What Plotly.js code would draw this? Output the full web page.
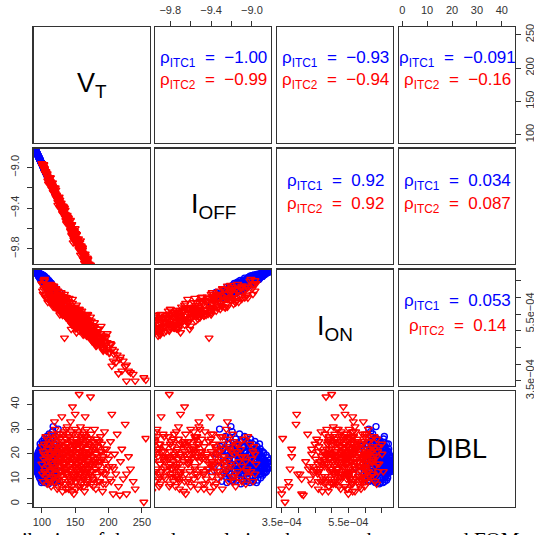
<!DOCTYPE html>
<html><head><meta charset="utf-8">
<script src="https://cdn.plot.ly/plotly-3.0.1.min.js"></script>
<style>html,body{margin:0;padding:0;background:#fff;overflow:hidden}</style>
</head><body><div id="chart" style="width:534px;height:535px"></div>
<script>
// ---------- DATA ----------
const varNames = ['V<sub>T</sub>', 'I<sub>OFF</sub>', 'I<sub>ON</sub>', 'DIBL'];

// ITC1 (blue circles)
const vt_itc1 = [90.5,91,91,91.5,92,92,92.5,93,93,93.5,
 94,94,94.5,95,95,95.5,96,96,96.5,97,
 97,97.5,98,98,98.5,99,99,99.5,100,100,
 97.5,99.5,99,97,95.5,100.5,101,101,101.5,102,
 102,102.5,103,103,103.5,104,104,104.5,105,105,
 105.5,106,106,106.5,107,107,107.5,108,108,108,
 108.5,109,109,109.5,110,110,110.5,111,111,111.5,
 112,112.5,113,113,113.5,114,114.5,115,115.5,116,
 116.5,117,117.5,118,118.5,119,119.5,120,120.5,121,
 117,122,123,124,124.5,125,127,130,
 91.5,92.5,93.5,94.5,95.5,96.5,97.5,98.5,99.5,100.5,
 101.5,102.5,103.5,104.5,105.5,106.5,107.5,108.5,109.5,110.5,
 111.5,112.5,113.5,114.5,115.5,116.5,117.5,118.5,119.5,120.5,
 96,98,100,102,104,106,108,110,112,114,
 116,118,120,122,101,103,105,107,109,111,
 93,94,95,96,97,98,99,100,101,102,
 103,104,105,106,107,108,109,110,111,112,
 113,114,115,116,117,118,119,104,106,100];
const ioff_itc1 = [-8.827,-8.834,-8.830,-8.843,-8.849,-8.845,-8.858,-8.863,-8.860,-8.872,
 -8.878,-8.880,-8.885,-8.895,-8.890,-8.899,-8.906,-8.908,-8.914,-8.921,
 -8.918,-8.928,-8.935,-8.932,-8.942,-8.950,-8.947,-8.957,-8.964,-8.960,
 -8.926,-8.955,-8.952,-8.923,-8.897,-8.971,-8.978,-8.975,-8.986,-8.993,
 -8.990,-9.000,-9.007,-9.004,-9.014,-9.022,-9.019,-9.029,-9.036,-9.033,
 -9.043,-9.050,-9.047,-9.058,-9.065,-9.062,-9.072,-9.079,-9.076,-9.081,
 -9.086,-9.094,-9.091,-9.101,-9.108,-9.105,-9.115,-9.122,-9.119,-9.130,
 -9.137,-9.144,-9.151,-9.148,-9.158,-9.166,-9.173,-9.180,-9.187,-9.194,
 -9.202,-9.209,-9.216,-9.223,-9.230,-9.238,-9.245,-9.252,-9.259,-9.266,
 -9.206,-9.281,-9.295,-9.310,-9.317,-9.324,-9.353,-9.396,
 -8.842,-8.856,-8.875,-8.885,-8.899,-8.914,-8.923,-8.942,-8.957,-8.971,
 -8.986,-9.006,-9.014,-9.029,-9.043,-9.058,-9.072,-9.080,-9.101,-9.115,
 -9.130,-9.144,-9.158,-9.167,-9.187,-9.202,-9.216,-9.230,-9.251,-9.259,
 -8.906,-8.935,-8.964,-8.993,-9.027,-9.050,-9.079,-9.108,-9.137,-9.166,
 -9.189,-9.223,-9.252,-9.281,-8.978,-9.007,-9.041,-9.065,-9.094,-9.122,
 -8.863,-8.878,-8.892,-8.906,-8.921,-8.935,-8.950,-8.964,-8.978,-8.993,
 -9.007,-9.022,-9.036,-9.050,-9.065,-9.079,-9.094,-9.108,-9.122,-9.137,
 -9.151,-9.166,-9.180,-9.194,-9.209,-9.223,-9.238,-9.020,-9.053,-8.961];
// I_ON in units of 1e-4 A
const ion_itc1_e4 = [6.79,6.77,6.78,6.75,6.77,6.76,6.78,6.71,6.74,6.71,
 6.74,6.69,6.71,6.64,6.71,6.67,6.73,6.63,6.68,6.62,
 6.71,6.60,6.63,6.54,6.65,6.58,6.70,6.52,6.61,6.54,
 6.70,6.54,6.61,6.58,6.71,6.55,6.68,6.48,6.59,6.49,
 6.64,6.46,6.53,6.38,6.56,6.46,6.64,6.37,6.52,6.41,
 6.58,6.37,6.47,6.29,6.50,6.40,6.58,6.29,6.45,6.34,
 6.51,6.30,6.40,6.22,6.43,6.33,6.51,6.23,6.39,6.27,
 6.44,6.23,6.31,6.14,6.35,6.24,6.42,6.14,6.29,6.17,
 6.34,6.13,6.22,6.03,6.24,6.13,6.31,6.03,6.18,6.06,
 6.33,6.02,6.09,5.90,6.11,6.00,6.15,5.81,
 6.76,6.77,6.71,6.73,6.63,6.67,6.70,6.57,6.60,6.46,
 6.47,6.65,6.46,6.57,6.33,6.47,6.53,6.32,6.38,6.19,
 6.23,6.45,6.24,6.35,6.11,6.25,6.31,6.10,6.16,5.97,
 6.63,6.69,6.55,6.61,6.37,6.48,6.51,6.29,6.33,6.11,
 6.13,6.32,6.10,6.19,6.47,6.54,6.58,6.36,6.39,6.18,
 6.74,6.68,6.73,6.65,6.69,6.55,6.61,6.65,6.51,6.66,
 6.56,6.39,6.60,6.41,6.51,6.26,6.40,6.46,6.27,6.47,
 6.34,6.17,6.38,6.19,6.29,6.04,6.18,6.59,6.38,6.68];
const dibl_itc1 = [16,15,17.5,14,16.5,18.5,13,15.5,19.5,12.5,
 17,14,20.5,11.5,16,21,13,18,10.5,15,
 22,12,19,16.5,9.5,23,14,20,11,17,
 24,8.5,21.5,17.5,14.5,22,13.5,19,9,16,
 24,11.5,20.5,14.5,26,8.5,17.5,22.5,12.5,19.5,
 15,25,10,21,13,17,27,9,23,15.5,
 19,12,25.5,16.5,8,21.5,14,28,18,10.5,
 23,15,20,9.5,26,13,17.5,22,11,29,
 15.5,19.5,10,24,14,21,8.5,17,27,12,
 31,19,9,23,30,15,20,13,
 16.5,14.5,17.5,13,19,15,21,12.5,17,25,
 20,13,16.5,24.5,9,18,13.5,22.5,10,25,
 16,12.5,23.5,15.5,20,9.5,26.5,18,13,21.5,
 15,21,14,10.5,20,16,18,12,19,23.5,
 9,17.5,11,22,18,23,16.5,21,14.5,19.5,
 17,15.5,18.5,12,20,14,18,15,21,12.5,
 18,15,23,14,19,11,17,20,13,16,
 24,18,14,20,16,12,24,20.5,17.5,13];

// ITC2 (red triangles)
const vt_itc2 = [100,101,102,102,103,104,105,106,107,108,108,109,110,104,101,
 111,112,112,113,114,114,115,116,116,117,118,118,119,120,120,121,122,122,123,123,124,124,125,125,119,
 126,126,127,127,128,128,129,129,130,130,131,131,132,132,133,133,134,134,135,135,136,136,137,137,138,138,139,139,140,140,
 141,141,142,142,143,143,144,144,145,145,146,146,147,147,148,148,149,149,150,150,151,151,152,152,153,153,154,154,155,155,156,150,
 156,157,157,158,158,159,159,160,160,161,161,162,162,163,163,164,164,165,165,166,166,167,167,168,168,169,169,170,
 171,172,172,173,173,174,174,175,176,176,177,178,178,179,180,181,181,182,183,183,184,185,
 186,187,188,188,189,190,191,192,193,194,195,196,197,198,200,
 202,203,205,206,207,209,211,213,215,217,218,220,
 222,225,227,227,230,233,237,240,253,256,
 112,114,115,117,118,120,121,122,124,126,127,128,130,131,132,133,135,136,137,138,
 139,141,142,143,144,145,146,147,148,149,150,151,152,153,154,155,156,157,158,159,
 160,161,162,163,164,165,166,167,168,169,171,172,173,175,176,177,179,180,182,184,
 186,188,190,192,194,196,198,201,204,208,
 129,134,140,144,148,152,156,160,164,168,131,137,143,149,155,161,167,139,145,151,
 103,105,107,109,111,113,115,106,110,116,
 118,121,123,125,127,129,131,133,134,136,138,140,141,143,145,146,148,150,152,153,
 155,157,158,160,162,163,165,166,168,170,172,174,176,178,181,183,185,187,189,191,
 124,132,142,147,151,154,159,164,169,175,128,135,139,144,149,157,161,167,173,180];
const ioff_itc2 = [-8.96,-8.97,-8.99,-8.99,-9.00,-9.02,-9.05,-9.04,-9.07,-9.08,-9.06,-9.10,-9.11,-9.01,-8.98,
 -9.12,-9.13,-9.15,-9.14,-9.17,-9.16,-9.19,-9.20,-9.18,-9.22,-9.23,-9.24,-9.23,-9.26,-9.25,-9.27,-9.28,-9.30,-9.30,-9.29,-9.32,-9.31,-9.33,-9.31,-9.24,
 -9.34,-9.35,-9.37,-9.35,-9.38,-9.36,-9.39,-9.40,-9.41,-9.39,-9.42,-9.41,-9.43,-9.44,-9.45,-9.46,-9.42,-9.47,-9.47,-9.46,-9.49,-9.48,-9.51,-9.50,-9.52,-9.51,-9.53,-9.54,-9.55,-9.53,
 -9.56,-9.55,-9.58,-9.57,-9.59,-9.52,-9.61,-9.62,-9.62,-9.60,-9.66,-9.63,-9.65,-9.74,-9.66,-9.65,-9.67,-9.68,-9.69,-9.60,-9.70,-9.71,-9.72,-9.70,-9.73,-9.74,-9.75,-9.74,-9.76,-9.75,-9.81,-9.70,
 -9.77,-9.79,-9.78,-9.80,-9.72,-9.81,-9.80,-9.83,-9.82,-9.84,-9.85,-9.85,-9.86,-9.87,-9.86,-9.88,-9.98,-9.89,-9.90,-9.91,-9.90,-9.92,-9.93,-9.94,-9.93,-9.95,-9.96,-9.97,
 -9.99,-10.00,-10.01,-10.02,-10.01,-10.03,-10.02,-10.05,-10.06,-10.07,-10.07,-10.09,-10.10,-10.11,-10.12,-10.13,-10.14,-10.15,-10.17,-10.16,-10.19,-10.19,
 -10.21,-10.22,-10.23,-10.24,-10.25,-10.26,-10.28,-10.29,-10.30,-10.31,-10.33,-10.34,-10.36,-10.37,-10.40,
 -10.43,-10.44,-10.47,-10.49,-10.50,-10.53,-10.56,-10.58,-10.61,-10.64,-10.65,-10.68,
 -10.71,-10.76,-10.79,-10.79,-10.83,-10.88,-10.93,-10.98,-11.16,-11.20,
 -9.10,-9.18,-9.18,-9.24,-9.20,-9.20,-9.29,-9.27,-9.37,-9.29,-9.32,-9.38,-9.39,-9.45,-9.40,-9.39,-9.49,-9.47,-9.55,-9.47,
 -9.49,-9.57,-9.56,-9.62,-9.57,-9.56,-9.65,-9.63,-9.71,-9.63,-9.65,-9.71,-9.71,-9.76,-9.72,-9.70,-9.80,-9.77,-9.86,-9.77,
 -9.79,-9.86,-9.85,-9.91,-9.86,-9.85,-9.94,-9.91,-10.00,-9.91,-9.95,-10.02,-10.01,-10.08,-10.03,-10.02,-10.13,-10.10,-10.20,-10.13,
 -10.17,-10.25,-10.26,-10.32,-10.29,-10.29,-10.40,-10.40,-10.52,-10.48,
 -9.35,-9.47,-9.54,-9.63,-9.63,-9.66,-9.80,-9.81,-9.94,-9.90,-9.38,-9.51,-9.58,-9.71,-9.73,-9.79,-9.95,-9.51,-9.67,-9.65,
 -8.97,-9.05,-9.06,-9.13,-9.10,-9.10,-9.21,-9.04,-9.16,-9.15,
 -9.25,-9.22,-9.30,-9.30,-9.40,-9.37,-9.38,-9.46,-9.40,-9.52,-9.54,-9.50,-9.56,-9.56,-9.66,-9.61,-9.62,-9.70,-9.66,-9.76,
 -9.78,-9.74,-9.81,-9.80,-9.90,-9.86,-9.87,-9.93,-9.89,-10.01,-10.03,-9.99,-10.06,-10.06,-10.18,-10.15,-10.15,-10.23,-10.19,-10.31,
 -9.34,-9.38,-9.57,-9.62,-9.74,-9.73,-9.78,-9.90,-9.90,-10.08,-9.39,-9.42,-9.53,-9.57,-9.72,-9.77,-9.81,-9.94,-9.96,-10.15];
const ion_itc2_e4 = [6.42,6.20,6.38,6.10,6.25,6.50,6.05,6.30,6.00,6.20,6.35,5.95,6.28,6.55,6.40,
 6.05,6.22,5.90,6.40,6.10,5.85,6.00,6.30,5.80,6.15,5.95,6.35,6.00,5.70,6.10,6.25,5.92,5.75,6.05,5.88,6.20,5.65,5.98,5.82,5.95,
 6.10,5.72,5.95,5.60,6.05,5.85,6.15,5.55,5.63,5.80,5.98,5.70,5.50,6.02,5.88,5.65,4.79,5.75,5.45,5.92,5.55,5.82,5.40,6.00,5.70,5.58,5.35,5.85,5.62,5.48,
 5.98,5.30,5.55,5.85,5.42,5.65,5.05,5.70,5.50,5.38,5.35,5.95,5.45,5.20,5.68,5.50,5.30,5.58,5.72,5.15,5.45,5.62,5.35,4.95,5.55,5.28,5.48,5.62,5.20,5.40,5.00,5.40,
 5.55,5.18,5.42,5.30,5.05,5.50,5.12,5.35,5.60,5.00,5.25,5.45,4.95,5.38,5.15,5.30,4.90,5.10,5.42,5.05,5.25,4.85,5.20,5.02,5.35,5.10,4.92,5.15,
 4.88,5.20,4.95,4.83,5.10,4.80,5.05,4.70,5.15,4.90,4.75,5.00,4.65,4.85,4.98,4.60,4.88,4.55,4.80,4.95,4.62,4.78,
 4.80,4.60,4.92,4.55,4.78,4.50,4.72,4.85,4.45,4.68,4.58,4.80,4.40,4.65,4.52,
 4.35,4.62,3.95,4.45,4.10,4.40,4.05,4.28,3.72,4.15,4.22,3.80,
 4.10,3.93,3.98,3.50,3.80,3.75,3.70,3.50,3.60,3.53,
 6.35,5.92,6.10,5.72,6.18,5.91,6.27,5.71,5.99,5.74,6.09,5.67,5.84,5.47,5.93,5.69,6.02,5.46,5.77,5.53,
 5.88,5.45,5.63,5.26,5.72,5.48,5.83,5.27,5.57,5.34,5.69,5.27,5.45,5.09,5.55,5.30,5.65,5.10,5.40,5.16,
 5.51,5.10,5.28,4.91,5.37,5.13,5.48,4.92,5.22,4.99,5.32,4.90,5.09,4.70,5.16,4.92,5.25,4.69,4.98,4.72,
 5.06,4.62,4.79,4.40,4.85,4.58,4.92,4.33,4.59,4.30,
 6.06,5.57,5.66,5.24,5.65,5.35,5.65,5.04,5.29,5.00,6.02,5.52,5.61,5.16,5.53,5.20,5.46,5.41,5.63,5.30,
 6.51,6.08,6.24,5.86,6.30,6.04,6.37,5.99,6.24,5.91,
 5.80,6.23,5.83,6.03,5.49,5.87,5.99,5.62,6.10,5.41,5.45,5.89,5.52,5.71,5.18,5.57,5.69,5.32,5.78,5.12,
 5.15,5.60,5.22,5.41,4.88,5.27,5.40,5.04,5.50,4.82,4.85,5.30,4.90,5.10,4.55,4.92,5.05,4.67,5.14,4.45,
 5.69,6.03,5.50,5.64,5.07,5.43,5.50,5.07,5.49,4.73,5.62,5.98,5.55,5.69,5.11,5.38,5.47,5.02,5.42,4.64];
const dibl_itc2 = [16,12,21,9,18,24,14,11,19,26,8,15,22,13,23,
 10,17,24,13,20,7,28,15,11,22,18,26,9,14,30,19,12,24,16,6,21,27,10,17,33,
 13,23,19,8,28,15,11,21,35,17,25,5,14,20,10,29,16,23,12,18,26,8,21,14,31,17,11,24,19,6,
 15,27,22,10,18,33,13,25,20,7,39,16,28,11,21,4,17,24,14,30,19,9,26,13,22,16,11,29,20,7,44,36,
 17,25,12,21,31,15,8,19,27,13,23,10,18,28,14,21,5,35,16,24,11,19,30,14,22,9,26,17,
 24,12,20,43,16,28,8,19,13,25,10,22,17,30,14,6,20,26,11,18,23,15,
 9,21,27,13,17,24,5,19,12,29,16,8,22,14,18,
 10,25,36,15,4,20,12,28,7,3.5,17,22,
 10,32,12,4,19,14,9,6,0.7,26.3,
 19,9,25,14,21,11,27,17,7,22,13,24,9,19,28,15,21,6,26,12,
 18,23,8,16,29,12,20,25,10,18,23,6,16,28,13,20,24,9,17,26,
 11,21,15,7,27,19,13,22,17,10,21,15,26,11,19,7,23,16,20,9,
 25,13,18,8,22,12,20,15,9,14,
 22,13,27,9,18,24,12,19,29,8,16,30,20,24,10,14,25,21,5,12,
 20,13,17,24,9,19,16,27,12,21,
 15,23,11,18,26,13,20,8,16,24,12,19,27,14,9,22,17,12,25,19,
 14,21,7,16,24,11,19,27,13,20,16,23,10,18,14,25,17,9,21,13,
 20,16,21,10,15,18,23,12,16,21,17,14,19,22,11,15,18,20,13,17];

// correlation labels (upper panels): [row, col]
const corrCells = [[0,1],[0,2],[0,3],[1,2],[1,3],[2,3]];
const rho_itc1 = ['\u22121.00','\u22120.93','\u22120.091','0.92','0.034','0.053'];
const rho_itc2 = ['\u22120.99','\u22120.94','\u22120.16','0.92','0.087','0.14'];

// tick labels
const vtTicks = [100,150,200,250];
const vtTickText = ['100','150','200','250'];
const ioffTicks = [-9.8,-9.6,-9.4,-9.2,-9.0];
const ioffTickText = ['\u22129.8','','\u22129.4','','\u22129.0'];
const ionTicks = [3.5e-4,4.0e-4,4.5e-4,5.0e-4,5.5e-4,6.0e-4,6.5e-4];
const ionTickText = ['3.5e\u221204','','','','5.5e\u221204','',''];
const diblTicks = [0,10,20,30,40];
const diblTickText = ['0','10','20','30','40'];
const captionText = 'Distribution of the  and correlations between the extracted FOMs for';

// ---------- BUILD ----------
const ion_itc1 = ion_itc1_e4.map(v => v * 1e-4);
const ion_itc2 = ion_itc2_e4.map(v => v * 1e-4);
const data1 = [vt_itc1, ioff_itc1, ion_itc1, dibl_itc1];
const data2 = [vt_itc2, ioff_itc2, ion_itc2, dibl_itc2];
const ranges = [[87.5,261.5],[-9.95,-8.813],[3.36e-4,6.84e-4],[-1.3,45.3]];
const tickv = [vtTicks, ioffTicks, ionTicks, diblTicks];
const tickt = [vtTickText, ioffTickText, ionTickText, diblTickText];

const W = 534, H = 535;
const colPx = [[33.5,149.5],[155,271],[277,393],[399,515]];
const rowPx = [[27,143],[148.5,264],[269.5,385.5],[391,507]];
const xd = c => [colPx[c][0]/W, colPx[c][1]/W];
const yd = r => [1 - rowPx[r][1]/H, 1 - rowPx[r][0]/H];
const py = p => 1 - p/H;
const pxx = p => p/W;

const FONT = 'Arial, "Liberation Sans", sans-serif';
const tickFont = {family: FONT, size: 11, color: '#333'};
const layout = {
  width: W, height: H, margin: {l:0, r:0, t:0, b:0},
  paper_bgcolor: '#fff', plot_bgcolor: 'rgba(0,0,0,0)',
  showlegend: false, annotations: []
};
const traces = [];
for (let r = 0; r < 4; r++) {
  for (let c = 0; c < 4; c++) {
    const k = r*4 + c + 1;
    const xn = k === 1 ? 'xaxis' : 'xaxis' + k;
    const yn = k === 1 ? 'yaxis' : 'yaxis' + k;
    const xa = k === 1 ? 'x' : 'x' + k;
    const ya = k === 1 ? 'y' : 'y' + k;
    const xTicksOn = (r === 3 && c % 2 === 0) || (r === 0 && c % 2 === 1);
    const yTicksOn = (c === 0 && r % 2 === 1) || (c === 3 && r % 2 === 0);
    layout[xn] = {
      domain: xd(c), anchor: ya, range: ranges[c], fixedrange: true,
      showgrid: false, zeroline: false, showline: true, mirror: true,
      linecolor: '#333', linewidth: 1.2,
      side: (r === 0) ? 'top' : 'bottom',
      ticks: xTicksOn ? 'outside' : '', ticklen: 5, tickwidth: 1, tickcolor: '#333',
      showticklabels: xTicksOn, tickmode: 'array', tickvals: tickv[c], ticktext: tickt[c],
      tickfont: tickFont, tickangle: 0, ticklabelstandoff: (r === 0) ? 2 : 0
    };
    layout[yn] = {
      domain: yd(r), anchor: xa, range: ranges[r], fixedrange: true,
      showgrid: false, zeroline: false, showline: true, mirror: true,
      linecolor: '#333', linewidth: 1.2,
      side: (c === 3) ? 'right' : 'left',
      ticks: yTicksOn ? 'outside' : '', ticklen: 5, tickwidth: 1, tickcolor: '#333',
      showticklabels: yTicksOn, tickmode: 'array', tickvals: tickv[r], ticktext: tickt[r],
      tickfont: tickFont, tickangle: -90, ticklabelstandoff: (c === 0) ? 4 : 0
    };
    if (r > c) {
      traces.push({type: 'scatter', mode: 'markers', x: data1[c], y: data1[r], xaxis: xa, yaxis: ya,
        marker: {symbol: 'circle-open', size: 6, color: '#0000ff', line: {width: 1.4}}, hoverinfo: 'skip'});
      traces.push({type: 'scatter', mode: 'markers', x: data2[c], y: data2[r], xaxis: xa, yaxis: ya,
        marker: {symbol: 'triangle-down-open', size: 7, color: '#ff0000', line: {width: 1.4}}, hoverinfo: 'skip'});
    } else {
      // empty trace so the (upper / diagonal) panel box is drawn
      traces.push({type: 'scatter', mode: 'markers', x: [], y: [], xaxis: xa, yaxis: ya, hoverinfo: 'skip'});
    }
    if (r === c) {
      layout.annotations.push({xref: 'paper', yref: 'paper',
        x: (xd(c)[0] + xd(c)[1]) / 2, y: (yd(r)[0] + yd(r)[1]) / 2,
        text: varNames[r], showarrow: false, xanchor: 'center', yanchor: 'middle',
        font: {family: FONT, size: 27, color: '#000'}});
    }
  }
}
const corrY = [[59, 81], [182, 205], [302, 327]];
const nb = '\u00a0';
corrCells.forEach(([r, c], i) => {
  const cx = (xd(c)[0] + xd(c)[1]) / 2;
  layout.annotations.push({xref: 'paper', yref: 'paper', x: cx, y: py(corrY[r][0]),
    text: '\u03c1<sub>ITC1</sub>' + nb + nb + '=' + nb + nb + rho_itc1[i], showarrow: false,
    xanchor: 'center', yanchor: 'middle', font: {family: FONT, size: 17, color: '#0000ff'}});
  layout.annotations.push({xref: 'paper', yref: 'paper', x: cx, y: py(corrY[r][1]),
    text: '\u03c1<sub>ITC2</sub>' + nb + nb + '=' + nb + nb + rho_itc2[i], showarrow: false,
    xanchor: 'center', yanchor: 'middle', font: {family: FONT, size: 17, color: '#ff0000'}});
});
// caption line, cut off at the bottom of the picture
layout.annotations.push({xref: 'paper', yref: 'paper', x: pxx(268), y: py(526), xanchor: 'center', yanchor: 'top',
  text: captionText, showarrow: false,
  font: {family: '"Liberation Serif", "Times New Roman", serif', size: 21, color: '#000'}});

Plotly.newPlot('chart', traces, layout, {staticPlot: true, displayModeBar: false});
</script></body></html>
